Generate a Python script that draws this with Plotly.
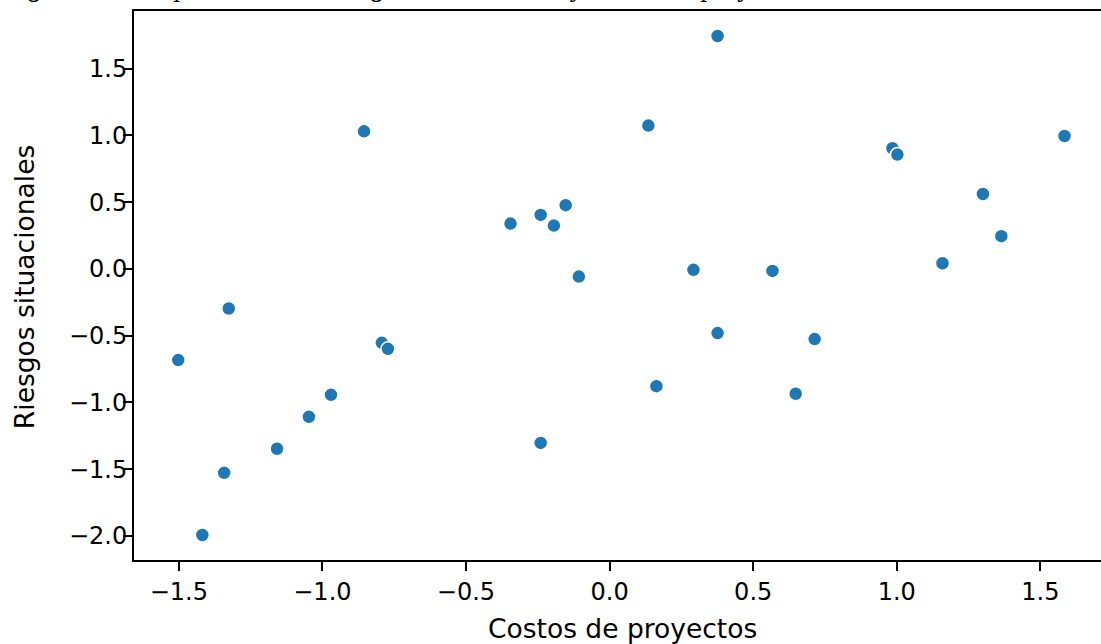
import plotly.graph_objects as go

# Data
costos = [-1.502, -1.326, -1.418, -1.342, -1.158, -1.047, -0.970, -0.855, -0.793, -0.772,
          -0.345, -0.240, -0.194, -0.153, -0.107, -0.240, 0.135, 0.163, 0.292, 0.376,
          0.376, 0.567, 0.648, 0.714, 0.985, 1.002, 1.159, 1.300, 1.364, 1.584]
riesgos = [-0.683, -0.297, -1.993, -1.527, -1.347, -1.108, -0.943, 1.030, -0.554, -0.599,
           0.339, 0.404, 0.324, 0.477, -0.058, -1.303, 1.073, -0.878, -0.007, 1.744,
           -0.481, -0.015, -0.935, -0.526, 0.903, 0.856, 0.042, 0.561, 0.245, 0.995]

x_ticks = [-1.5, -1.0, -0.5, 0.0, 0.5, 1.0, 1.5]
x_tick_labels = ["\u22121.5", "\u22121.0", "\u22120.5", "0.0", "0.5", "1.0", "1.5"]
y_ticks = [-2.0, -1.5, -1.0, -0.5, 0.0, 0.5, 1.0, 1.5]
y_tick_labels = ["\u22122.0", "\u22121.5", "\u22121.0", "\u22120.5", "0.0", "0.5", "1.0", "1.5"]

x_label = "Costos de proyectos"
y_label = "Riesgos situacionales"
caption = "Diagrama de dispersión entre riesgos situacionales y costos de proyectos"

FONT = "DejaVu Sans"
W, H = 1101, 644
ML, MT, MB = 134, 11, 84
PW, PH = W - ML, H - MT - MB

fig = go.Figure()
fig.add_trace(go.Scatter(
    x=costos, y=riesgos, mode="markers",
    marker=dict(size=14, color="#1f77b4", line=dict(color="white", width=1.5)),
    showlegend=False,
))

fig.update_layout(
    width=W, height=H,
    margin=dict(l=ML, r=0, t=MT, b=MB),
    paper_bgcolor="white", plot_bgcolor="white",
    font=dict(family=FONT, color="black"),
    xaxis=dict(
        range=[-1.656, 1.711], showgrid=False, zeroline=False,
        showline=True, linecolor="black", linewidth=2, mirror=True,
        ticks="outside", ticklen=9, tickwidth=2, tickcolor="black",
        tickvals=x_ticks, ticktext=x_tick_labels,
        tickfont=dict(family=FONT, size=24, color="black"),
        automargin=False,
    ),
    yaxis=dict(
        range=[-2.18, 1.931], showgrid=False, zeroline=False,
        showline=True, linecolor="black", linewidth=2, mirror=False,
        ticks="outside", ticklen=9, tickwidth=2, tickcolor="black",
        tickvals=y_ticks, ticktext=y_tick_labels, ticklabelstandoff=-9,
        tickfont=dict(family=FONT, size=24, color="black"),
        automargin=False,
    ),
    annotations=[
        dict(
            text="<i>" + caption + "</i>", xref="paper", yref="paper",
            x=(-16 - ML) / PW, y=1 + (MT - 4) / PH,
            xanchor="left", yanchor="bottom", showarrow=False,
            font=dict(family="Liberation Serif", size=28, color="black"),
        ),
        dict(
            text=y_label, xref="paper", yref="paper",
            x=(24 - ML) / PW, y=0.497, textangle=-90,
            xanchor="center", yanchor="middle", showarrow=False,
            font=dict(family=FONT, size=26.5, color="black"),
        ),
        dict(
            text=x_label, xref="paper", yref="paper",
            x=(622 - ML) / PW, y=-(628 - (H - MB)) / PH,
            xanchor="center", yanchor="middle", showarrow=False,
            font=dict(family=FONT, size=26.5, color="black"),
        ),
    ],
)

fig.write_html(
    "out.html",
    config={"displayModeBar": False},
    post_script="document.body.style.margin='0';document.body.style.overflow='hidden';",
)
